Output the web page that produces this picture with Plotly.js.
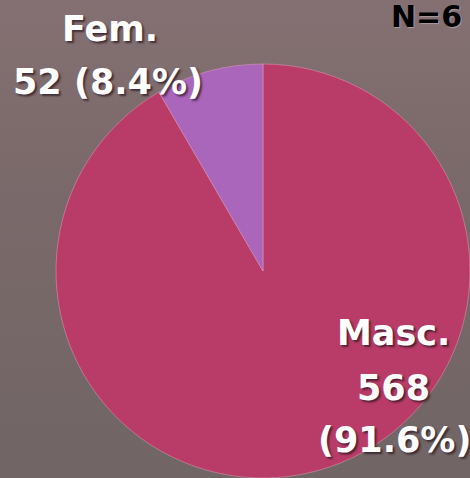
<!DOCTYPE html>
<html>
<head>
<meta charset="utf-8">
<script src="https://cdn.plot.ly/plotly-3.0.1.min.js"></script>
<style>
html,body{margin:0;padding:0;}
body{width:470px;height:478px;overflow:hidden;
background:
 linear-gradient(180deg, rgba(132,112,114,1) 0%, rgba(122,105,106,1) 40%, rgba(113,101,101,1) 100%);}
#chart{width:470px;height:478px;}
</style>
</head>
<body>
<div id="chart"></div>
<script>
const labels = ["Masc.", "Fem."];
const values = [568, 52];
const colors = ["#B93C68", "#A966BB"];
const total = values.reduce((a, b) => a + b, 0);
const pct = values.map(v => (100 * v / total).toFixed(1) + "%");
const nLabel = "N=6";

const W = 470, H = 478;
const px = x => x / W;
const py = y => 1 - y / H;

const labelFont = {family: "DejaVu Sans", size: 35, color: "#ffffff", weight: "bold",
  shadow: "2px 2px 2px rgba(40,20,30,0.7)"};

const annotations = [
  {text: labels[1], x: px(110), y: py(29)},
  {text: values[1] + " (" + pct[1] + ")", x: px(108), y: py(82)},
  {text: labels[0], x: px(393), y: py(333)},
  {text: String(values[0]), x: px(393), y: py(388)},
  {text: "(" + pct[0] + ")", x: px(394), y: py(440)}
].map(a => Object.assign({xref: "paper", yref: "paper", xanchor: "center", yanchor: "middle",
  showarrow: false, font: labelFont}, a));

annotations.push({text: nLabel, xref: "paper", yref: "paper", x: px(464), y: py(36),
  xanchor: "right", yanchor: "bottom", showarrow: false,
  font: {family: "DejaVu Sans", size: 30, color: "#000000", weight: "bold",
    shadow: "1px 1px 1px rgba(255,255,255,0.3)"}});

const trace = {
  type: "pie",
  labels: labels,
  values: values,
  sort: false,
  direction: "clockwise",
  rotation: 0,
  textinfo: "none",
  hoverinfo: "none",
  marker: {colors: colors, line: {color: "rgba(230,160,190,0.6)", width: 0.8}},
  domain: {x: [56 / W, 1], y: [0, 1 - 64 / H]},
  showlegend: false
};

const layout = {
  width: W, height: H,
  margin: {l: 0, r: 0, t: 0, b: 0},
  paper_bgcolor: "rgba(0,0,0,0)",
  plot_bgcolor: "rgba(0,0,0,0)",
  showlegend: false,
  annotations: annotations
};

Plotly.newPlot("chart", [trace], layout, {displayModeBar: false, staticPlot: true});
</script>
</body>
</html>
